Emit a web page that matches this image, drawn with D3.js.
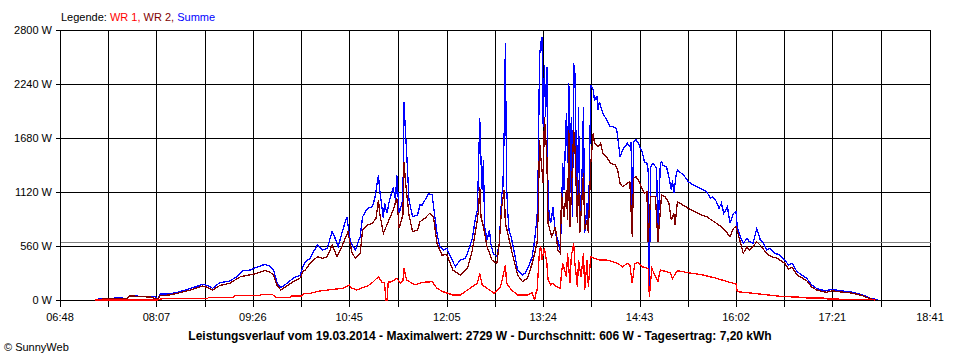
<!DOCTYPE html>
<html><head><meta charset="utf-8">
<script src="https://cdn.jsdelivr.net/npm/d3@7"></script>
<style>body{margin:0;background:#fff} svg{display:block} text{font-family:"Liberation Sans",Arial,sans-serif;font-size:11px}</style>
</head><body><svg id="c" width="960" height="360"></svg>
<script>
// ---- data ----
const xTickLabels = ["06:48","08:07","09:26","10:45","12:05","13:24","14:43","16:02","17:21","18:41"];
const yTicks = [0, 560, 1120, 1680, 2240, 2800];
const averageW = 606;
const titleText = "Leistungsverlauf vom 19.03.2014 - Maximalwert: 2729 W - Durchschnitt: 606 W - Tagesertrag: 7,20 kWh";
const seriesNames = ["WR 1", "WR 2", "Summe"];

// Summe (minutes since midnight, W)
const sumTime = [437,441,447,457,463,465,469,474,482,486,488,490,498,506,515,520,525,529,533,539,547,553,558,564,569,576,580,583,586,589,594,599,605,607,609,613,615,619,623,627,631,633,636,639,643,646,650,654,656,660,664,666,669,670,673,674,676,678,681,683,684,686,689,690,691,692,694,697,701,703,705,710,713,714,717,719,722,725,728,732,736,740,742,746,748,750,751,752,753,754,755,756,758,760,761,763,766,768,770,771,772,773,774,775,776,778,781,783,787,789,792,795,797,799,800,801,802,803,804,805,806,807,808,810,811,812,814,816,818,819,820,821,823,824,825,826,827,828,829,830,832,833,834,836,837,838,840,841,842,843,845,846,848,849,850,853,856,859,861,864,865,867,869,873,875,876,877,878,880,882,885,887,889,890,891,892,894,897,898,900,901,902,905,907,909,910,911,913,914,919,923,927,931,935,938,941,943,946,948,950,952,955,957,960,962,963,965,968,971,973,976,979,982,984,987,990,994,998,1002,1005,1008,1012,1016,1020,1024,1028,1032,1036,1041,1047,1055,1061,1066,1072,1078];
const sumW = [7,10,18,20,18,45,45,35,35,35,12,62,62,86,121,140,163,150,121,180,197,242,304,311,339,370,350,311,173,128,173,225,259,339,397,432,484,570,518,536,708,656,553,691,864,605,518,656,864,951,968,1055,1296,1141,847,1003,899,1037,1158,1037,1296,899,1037,2056,1763,1556,1037,864,881,985,985,1106,1089,985,691,560,518,536,449,345,415,432,484,640,812,933,1366,1884,1452,1141,1452,760,622,726,588,484,449,588,1089,1175,1728,2665,1175,899,726,640,449,311,259,277,345,449,622,864,1418,2523,2662,2729,1797,2437,1901,2420,1003,795,864,968,691,622,518,864,1418,1141,1936,1418,2247,1106,1901,864,2454,2351,829,2005,726,1382,2005,691,1003,726,1418,2230,2178,2074,2109,1970,2056,1936,1867,1797,1797,1780,1694,1486,1556,1625,1590,1642,656,1642,1666,1625,1538,1434,1418,1348,52,1382,1418,1366,622,1420,1434,1400,1382,1279,1141,1244,1106,1296,1348,1296,1227,1193,1168,1141,1123,1055,1071,1020,951,1003,899,968,795,899,916,760,674,588,640,605,588,743,620,605,518,536,484,467,415,363,380,294,259,225,156,121,104,97,111,97,86,69,52,18,5];

// WR 2
const wr2Time = [437,447,463,465,469,482,488,490,498,506,515,525,529,533,539,547,556,566,576,580,583,586,589,597,605,607,609,613,619,623,627,631,635,639,644,647,650,654,656,660,664,667,669,670,673,677,681,684,686,689,690,691,694,697,701,703,707,711,714,717,721,725,730,736,742,746,750,751,752,753,755,758,762,766,768,770,772,773,775,778,783,787,791,795,799,800,801,802,804,805,807,808,811,814,816,818,819,821,823,824,825,826,829,830,832,833,834,837,838,840,841,843,845,846,849,851,853,856,859,863,865,867,869,873,875,877,878,880,882,885,887,889,890,892,896,898,901,904,907,909,911,912,914,916,923,928,934,938,942,946,950,955,957,960,962,964,968,971,973,976,979,983,987,991,996,1002,1005,1008,1012,1016,1020,1024,1028,1032,1036,1041,1047,1055,1061,1066,1072,1077];
const wr2W = [5,12,12,40,40,30,10,45,52,75,104,145,130,104,150,173,242,266,304,290,259,150,104,173,230,294,311,380,449,432,449,570,449,553,708,501,432,484,726,778,795,847,1037,900,691,812,933,1055,743,881,1434,1244,881,708,726,812,847,899,864,588,467,470,311,259,328,518,829,933,1175,864,760,553,415,380,588,968,1141,795,691,518,259,190,225,380,588,933,1659,1486,1210,1901,1486,795,656,760,518,484,1106,864,1141,829,1763,760,1763,1590,795,1244,691,1314,726,829,691,1418,1728,1625,1590,1625,1521,1486,1418,1400,1348,1210,1175,1210,1230,656,1262,1279,1244,1158,1106,1123,605,1071,1071,605,1089,1071,1003,829,899,778,1020,1003,951,916,881,864,829,795,760,691,656,743,760,674,484,553,518,553,605,553,484,449,432,380,320,340,260,230,200,135,105,90,80,95,85,75,60,45,12,3];

// WR 1
const wr1Time = [437,488,490,498,529,530,550,551,572,573,582,585,596,598,606,608,613,621,632,640,645,647,651,660,664,669,672,674,675,676,677,680,684,687,689,690,692,699,705,713,717,722,730,736,744,750,752,754,758,764,769,771,773,774,778,783,791,795,797,798,799,801,802,803,805,807,808,810,812,815,818,819,820,823,824,826,827,829,830,832,833,835,837,838,840,841,843,846,850,856,861,865,869,873,875,877,879,882,885,890,891,893,898,900,908,910,914,923,935,946,955,962,963,968,984,996,1002,1017,1020,1033,1037,1072,1076];
const wr1W = [0,0,10,18,18,28,28,45,45,59,59,24,24,41,41,69,69,93,111,121,156,125,104,145,180,242,180,180,0,0,185,190,225,173,200,328,207,156,183,190,121,86,52,52,121,173,277,156,121,69,138,242,363,173,104,52,52,76,0,69,104,518,553,415,536,380,207,156,173,138,121,277,380,242,484,173,449,588,380,138,415,242,484,104,415,138,449,432,415,415,397,380,345,380,363,173,380,387,345,328,30,328,190,311,283,225,304,283,259,225,190,166,86,80,59,41,35,28,21,21,10,5,0];

// ---- chart ----
const svg = d3.select("#c");
const toMin = s => { const [h, m] = s.split(":").map(Number); return h * 60 + m; };
const labelMins = xTickLabels.map(toMin);
const x = d3.scaleLinear().domain([labelMins[0], labelMins[labelMins.length - 1]]).range([60, 930]);
const y = d3.scaleLinear().domain([0, 2800]).range([300, 30]);
const px = v => Math.round(v) + 0.5;

const allTicks = [];
labelMins.forEach((m, i) => {
  allTicks.push(m);
  if (i < labelMins.length - 1) allTicks.push((m + labelMins[i + 1]) / 2);
});

const grid = svg.append("g").attr("shape-rendering", "crispEdges").attr("stroke", "#000").attr("stroke-width", 1);
grid.selectAll("line.v").data(allTicks).join("line")
  .attr("x1", d => px(x(d))).attr("x2", d => px(x(d)))
  .attr("y1", px(y(2800))).attr("y2", px(y(0)) + 6);
grid.selectAll("line.h").data(yTicks).join("line")
  .attr("x1", px(x.range()[0]) - 5).attr("x2", px(x.range()[1]))
  .attr("y1", d => px(y(d))).attr("y2", d => px(y(d)));

svg.append("line").attr("shape-rendering", "crispEdges")
  .attr("x1", px(60)).attr("x2", px(930))
  .attr("y1", px(y(averageW))).attr("y2", px(y(averageW)))
  .attr("stroke", "#808080");

const line = d3.line().x(d => x(d[0])).y(d => y(d[1]));
const series = [
  [sumTime, sumW, "#0000ff"],
  [wr2Time, wr2W, "#800000"],
  [wr1Time, wr1W, "#ff0000"]
];
series.forEach(([t, v, c]) => {
  svg.append("path").datum(t.map((d, i) => [d, v[i]]))
    .attr("d", line).attr("fill", "none").attr("stroke", c).attr("stroke-width", 1.3)
    .attr("shape-rendering", "crispEdges")
    .attr("stroke-linejoin", "miter");
});

svg.selectAll("text.y").data(yTicks).join("text")
  .attr("x", 52).attr("y", d => y(d) + 4).attr("text-anchor", "end")
  .text(d => d + " W");
svg.selectAll("text.x").data(labelMins).join("text")
  .attr("x", d => x(d)).attr("y", 321).attr("text-anchor", "middle")
  .text((d, i) => xTickLabels[i]);

const leg = svg.append("text").attr("x", 61).attr("y", 21);
leg.append("tspan").attr("fill", "#000").text("Legende: ");
leg.append("tspan").attr("fill", "#ff0000").text(seriesNames[0] + ", ");
leg.append("tspan").attr("fill", "#800000").text(seriesNames[1] + ", ");
leg.append("tspan").attr("fill", "#0000ff").text(seriesNames[2]);

svg.append("text").attr("x", 480).attr("y", 340).attr("text-anchor", "middle")
  .attr("font-weight", "bold").style("font-size", "12px").text(titleText);
svg.append("text").attr("x", 4).attr("y", 351).text("\u00A9 SunnyWeb");
</script>
</body></html>
